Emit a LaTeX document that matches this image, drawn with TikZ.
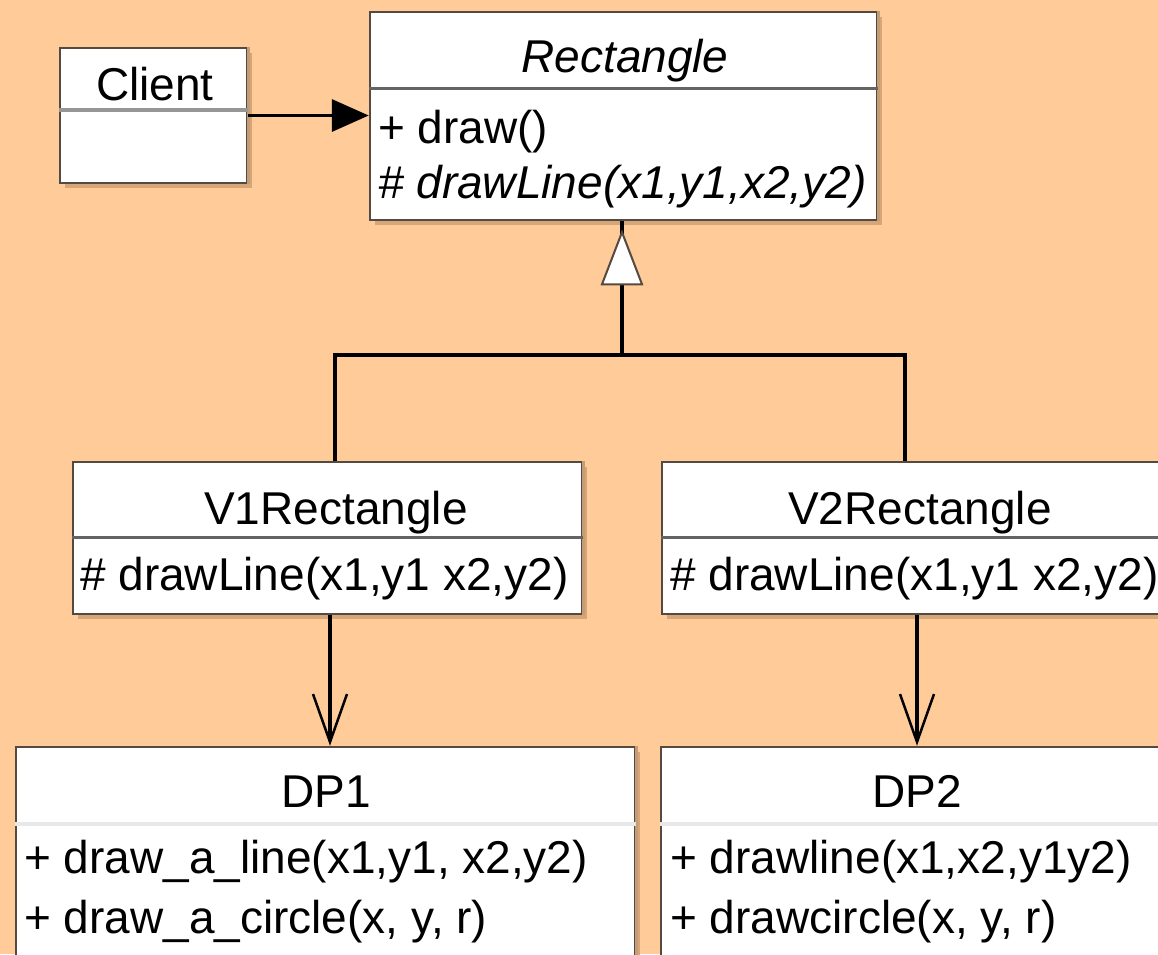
\documentclass[tikz,border=0pt]{standalone}
\usepackage{fontspec}
\setmainfont{Liberation Sans}
\usetikzlibrary{arrows.meta,calc,shadows}

\definecolor{paper}{RGB}{255,203,153}
\definecolor{frame}{RGB}{84,74,66}
\definecolor{shade}{RGB}{214,166,120}
\definecolor{edgeR}{RGB}{196,156,118}
\definecolor{darkrule}{RGB}{100,100,100}
\definecolor{midrule}{RGB}{150,150,150}
\definecolor{lightrule}{RGB}{232,232,232}

\tikzset{
  x=1pt, y=-1pt,
  classbox/.style={rectangle, draw=frame, line width=2.5pt, fill=white, inner sep=0pt,
    drop shadow={shadow xshift=5pt, shadow yshift=-5pt, fill=shade, opacity=1}},
  lbl/.style={inner sep=0pt, text=black, font=\fontsize{46}{46}\selectfont},
  rightedge/.style={draw=edgeR, line width=2.5pt},
  sepdark/.style={draw=darkrule, line width=3pt},
  sepmid/.style={draw=midrule, line width=3.5pt},
  seplight/.style={draw=lightrule, line width=4pt},
  link/.style={draw=black, line width=3.5pt},
  navig/.style={link, -{Triangle[length=37pt, width=32pt]}},
  depend/.style={link, -{Straight Barb[length=48pt, width=34pt, line width=2.5pt]}},
  genhead/.style={draw=frame, line width=2pt, fill=white, line join=miter},
}

\begin{document}
\begin{tikzpicture}
  % canvas
  \fill[paper] (0,0) rectangle (1158,954);
  \useasboundingbox (0,0) rectangle (1158,954);
  \clip (0,0) rectangle (1158,954);

  % class boxes
  \node[classbox, minimum width=187pt, minimum height=135pt] (client) at (153.5,115.5) {};
  \node[classbox, minimum width=507pt, minimum height=208pt] (rect)   at (623.5,116) {};
  \node[classbox, minimum width=509pt, minimum height=152pt] (v1)     at (327.5,538) {};
  \node[classbox, minimum width=510pt, minimum height=152pt] (v2)     at (917,538) {};
  \node[classbox, minimum width=619pt, minimum height=260pt] (dp1)    at (325.5,877) {};
  \node[classbox, minimum width=540pt, minimum height=260pt] (dp2)    at (931,877) {};

  \foreach \b in {client,rect,v1,v2,dp1,dp2}
    \draw[rightedge] (\b.north east) -- (\b.south east);

  % compartment rules
  \draw[sepmid]   (client.west |- 0,110) -- (client.east |- 0,110);
  \draw[sepdark]  (rect.west |- 0,88)    -- (rect.east |- 0,88);
  \draw[sepdark]  (v1.west |- 0,537)     -- (v1.east |- 0,537);
  \draw[sepdark]  (v2.west |- 0,537)     -- (v2.east |- 0,537);
  \draw[seplight] (dp1.west |- 0,824)    -- (dp1.east |- 0,824);
  \draw[seplight] (dp2.west |- 0,824)    -- (dp2.east |- 0,824);

  % class names
  \node[lbl, anchor=base] (clientname) at (155,100) {Client};
  \node[lbl, anchor=base, font=\fontsize{46}{46}\selectfont\itshape] (rectname) at (625,72) {Rectangle};
  \node[lbl, anchor=base] (v1name)  at (336,524) {V1Rectangle};
  \node[lbl, anchor=base] (v2name)  at (920,524) {V2Rectangle};
  \node[lbl, anchor=base] (dp1name) at (326,807) {DP1};
  \node[lbl, anchor=base] (dp2name) at (917,807) {DP2};

  % operations
  \node[lbl, anchor=base west] (rop1) at (378,143) {+ draw()};
  \node[lbl, anchor=base west, font=\fontsize{46}{46}\selectfont\itshape] (rop2) at (378,198) {\# drawLine(x1,y1,x2,y2)};
  \node[lbl, anchor=base west] (v1op) at (80,590) {\# drawLine(x1,y1 x2,y2)};
  \node[lbl, anchor=base west] (v2op) at (670,590) {\# drawLine(x1,y1 x2,y2)};
  \node[lbl, anchor=base west] (dp1op1) at (24,873) {+ draw\_a\_line(x1,y1, x2,y2)};
  \node[lbl, anchor=base west] (dp1op2) at (24,933) {+ draw\_a\_circle(x, y, r)};
  \node[lbl, anchor=base west] (dp2op1) at (670,873) {+ drawline(x1,x2,y1y2)};
  \node[lbl, anchor=base west] (dp2op2) at (670,933) {+ drawcircle(x, y, r)};

  % association Client -> Rectangle
  \draw[navig] (client.east) -- (client.east -| rect.west);

  % generalization V1Rectangle / V2Rectangle -> Rectangle
  \coordinate (hub) at (622,355);
  \coordinate (leftbend) at (335,355);
  \coordinate (rightbend) at (905,355);
  \draw[link] (v1.north -| leftbend) -- (leftbend) -- (rightbend) -- (v2.north -| rightbend);
  \draw[link] (hub) -- (rect.south -| hub);
  \draw[genhead] ($(rect.south -| hub)+(0,11)$) -- ++(-20,52) -- ++(40,0) -- cycle;

  % dependencies on the drawing programs
  \coordinate (d1) at (330,0);
  \coordinate (d2) at (917,0);
  \draw[depend] (v1.south -| d1) -- (dp1.north -| d1);
  \draw[depend] (v2.south -| d2) -- (dp2.north -| d2);
\end{tikzpicture}
\end{document}
